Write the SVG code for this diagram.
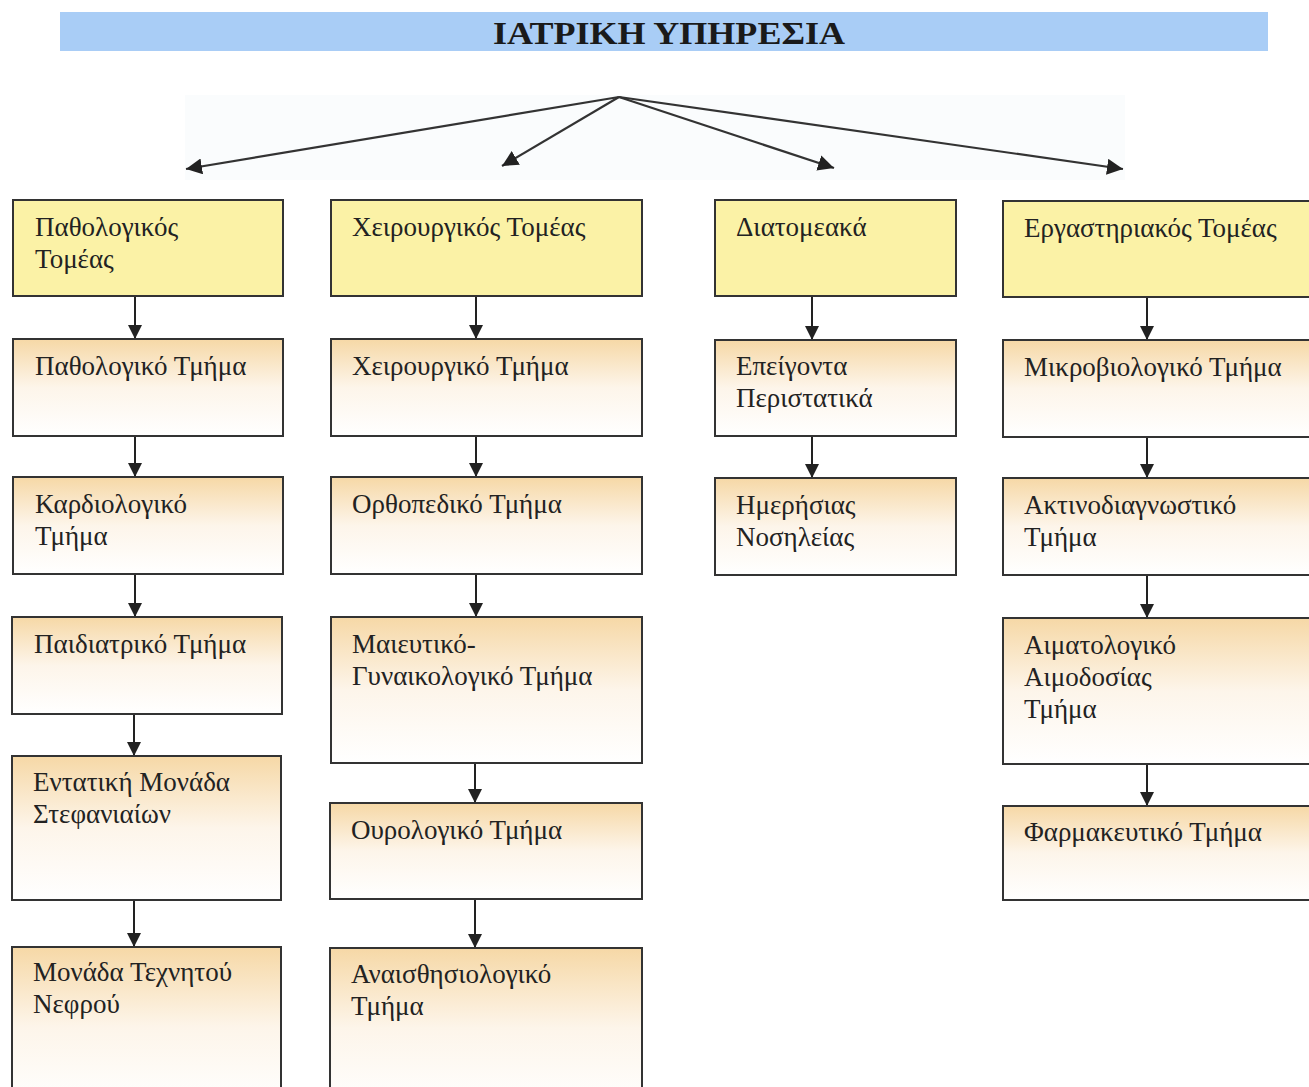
<svg xmlns="http://www.w3.org/2000/svg" width="1309" height="1087" viewBox="0 0 1309 1087">
  <defs>
    <linearGradient id="peach" x1="0" y1="0" x2="0" y2="1">
      <stop offset="0" stop-color="#f6d8a6"/>
      <stop offset="0.5" stop-color="#fdf5ea"/>
      <stop offset="1" stop-color="#ffffff"/>
    </linearGradient>
    <marker id="arr" viewBox="0 0 10 10" refX="10" refY="5" markerWidth="14" markerHeight="14" markerUnits="userSpaceOnUse" orient="auto">
      <path d="M0,0 L10,5 L0,10 z" fill="#222"/>
    </marker>
    <marker id="arrBig" viewBox="0 0 10 10" refX="10" refY="5" markerWidth="16" markerHeight="16" markerUnits="userSpaceOnUse" orient="auto">
      <path d="M0,0 L10,5 L0,10 z" fill="#222"/>
    </marker>
  </defs>
  <style>
    .sector { fill: #fbf2a6; stroke: #333; stroke-width: 2; }
    .dept { fill: url(#peach); stroke: #333; stroke-width: 2; }
    .lbl { font-family: "Liberation Serif", "DejaVu Serif", serif; font-size: 27px; fill: #222; }
    .link { stroke: #222; stroke-width: 2; fill: none; marker-end: url(#arr); }
    .fan { stroke: #333; stroke-width: 2.2; fill: none; marker-end: url(#arrBig); }
  </style>

  <rect width="1309" height="1087" fill="#ffffff"/>

  <!-- title banner -->
  <g id="title">
    <rect x="60" y="12" width="1208" height="39" fill="#a9cdf6"/>
    <text x="669" y="44" text-anchor="middle" font-family="Liberation Serif, serif" font-weight="bold" font-size="32" fill="#1a1a1a" textLength="352" lengthAdjust="spacingAndGlyphs">ΙΑΤΡΙΚΗ ΥΠΗΡΕΣΙΑ</text>
  </g>

  <!-- faint band behind the fan of arrows -->
  <rect x="185" y="95" width="940" height="85" fill="#fafcfd"/>

  <!-- connectors -->
  <g id="connectors">
    <line class="fan" x1="619" y1="97" x2="186" y2="169"/>
    <line class="fan" x1="619" y1="97" x2="502" y2="166"/>
    <line class="fan" x1="619" y1="97" x2="834" y2="168"/>
    <line class="fan" x1="619" y1="97" x2="1123" y2="169"/>

    <line class="link" x1="135" y1="296" x2="135" y2="339"/>
    <line class="link" x1="135" y1="436" x2="135" y2="477"/>
    <line class="link" x1="135" y1="574" x2="135" y2="617"/>
    <line class="link" x1="134" y1="714" x2="134" y2="756"/>
    <line class="link" x1="134" y1="900" x2="134" y2="947"/>

    <line class="link" x1="476" y1="296" x2="476" y2="339"/>
    <line class="link" x1="476" y1="436" x2="476" y2="477"/>
    <line class="link" x1="476" y1="574" x2="476" y2="617"/>
    <line class="link" x1="475" y1="763" x2="475" y2="803"/>
    <line class="link" x1="475" y1="899" x2="475" y2="948"/>

    <line class="link" x1="812" y1="296" x2="812" y2="340"/>
    <line class="link" x1="812" y1="436" x2="812" y2="478"/>

    <line class="link" x1="1147" y1="297" x2="1147" y2="340"/>
    <line class="link" x1="1147" y1="437" x2="1147" y2="478"/>
    <line class="link" x1="1147" y1="575" x2="1147" y2="618"/>
    <line class="link" x1="1147" y1="764" x2="1147" y2="806"/>
  </g>

  <!-- column 1 -->
  <g id="pathologikos-tomeas">
    <rect class="sector" x="13" y="200" width="270" height="96"/>
    <text class="lbl" x="35" y="236">Παθολογικός</text>
    <text class="lbl" x="35" y="268">Τομέας</text>
  </g>
  <g id="pathologiko-tmima">
    <rect class="dept" x="13" y="339" width="270" height="97"/>
    <text class="lbl" x="35" y="375">Παθολογικό Τμήμα</text>
  </g>
  <g id="kardiologiko-tmima">
    <rect class="dept" x="13" y="477" width="270" height="97"/>
    <text class="lbl" x="35" y="513">Καρδιολογικό</text>
    <text class="lbl" x="35" y="545">Τμήμα</text>
  </g>
  <g id="paidiatriko-tmima">
    <rect class="dept" x="12" y="617" width="270" height="97"/>
    <text class="lbl" x="34" y="653">Παιδιατρικό Τμήμα</text>
  </g>
  <g id="entatiki-monada">
    <rect class="dept" x="12" y="756" width="269" height="144"/>
    <text class="lbl" x="33" y="791">Εντατική Μονάδα</text>
    <text class="lbl" x="33" y="823">Στεφανιαίων</text>
  </g>
  <g id="monada-nefrou">
    <rect class="dept" x="12" y="947" width="269" height="160"/>
    <text class="lbl" x="33" y="981">Μονάδα Τεχνητού</text>
    <text class="lbl" x="33" y="1013">Νεφρού</text>
  </g>

  <!-- column 2 -->
  <g id="cheirourgikos-tomeas">
    <rect class="sector" x="331" y="200" width="311" height="96"/>
    <text class="lbl" x="352" y="236">Χειρουργικός Τομέας</text>
  </g>
  <g id="cheirourgiko-tmima">
    <rect class="dept" x="331" y="339" width="311" height="97"/>
    <text class="lbl" x="352" y="375">Χειρουργικό Τμήμα</text>
  </g>
  <g id="orthopediko-tmima">
    <rect class="dept" x="331" y="477" width="311" height="97"/>
    <text class="lbl" x="352" y="513">Ορθοπεδικό Τμήμα</text>
  </g>
  <g id="maieutiko-tmima">
    <rect class="dept" x="331" y="617" width="311" height="146"/>
    <text class="lbl" x="352" y="653">Μαιευτικό-</text>
    <text class="lbl" x="352" y="685">Γυναικολογικό Τμήμα</text>
  </g>
  <g id="ourologiko-tmima">
    <rect class="dept" x="330" y="803" width="312" height="96"/>
    <text class="lbl" x="351" y="839">Ουρολογικό Τμήμα</text>
  </g>
  <g id="anaisthisiologiko-tmima">
    <rect class="dept" x="330" y="948" width="312" height="160"/>
    <text class="lbl" x="351" y="983">Αναισθησιολογικό</text>
    <text class="lbl" x="351" y="1015">Τμήμα</text>
  </g>

  <!-- column 3 -->
  <g id="diatomeaka">
    <rect class="sector" x="715" y="200" width="241" height="96"/>
    <text class="lbl" x="736" y="236">Διατομεακά</text>
  </g>
  <g id="epeigonta">
    <rect class="dept" x="715" y="340" width="241" height="96"/>
    <text class="lbl" x="736" y="375">Επείγοντα</text>
    <text class="lbl" x="736" y="407">Περιστατικά</text>
  </g>
  <g id="imerisias-nosileias">
    <rect class="dept" x="715" y="478" width="241" height="97"/>
    <text class="lbl" x="736" y="514">Ημερήσιας</text>
    <text class="lbl" x="736" y="546">Νοσηλείας</text>
  </g>

  <!-- column 4 -->
  <g id="ergastiriakos-tomeas">
    <rect class="sector" x="1003" y="201" width="320" height="96"/>
    <text class="lbl" x="1024" y="237">Εργαστηριακός Τομέας</text>
  </g>
  <g id="mikroviologiko-tmima">
    <rect class="dept" x="1003" y="340" width="320" height="97"/>
    <text class="lbl" x="1024" y="376">Μικροβιολογικό Τμήμα</text>
  </g>
  <g id="aktinodiagnostiko-tmima">
    <rect class="dept" x="1003" y="478" width="320" height="97"/>
    <text class="lbl" x="1024" y="514">Ακτινοδιαγνωστικό</text>
    <text class="lbl" x="1024" y="546">Τμήμα</text>
  </g>
  <g id="aimatologiko-tmima">
    <rect class="dept" x="1003" y="618" width="320" height="146"/>
    <text class="lbl" x="1024" y="654">Αιματολογικό</text>
    <text class="lbl" x="1024" y="686">Αιμοδοσίας</text>
    <text class="lbl" x="1024" y="718">Τμήμα</text>
  </g>
  <g id="farmakeftiko-tmima">
    <rect class="dept" x="1003" y="806" width="320" height="94"/>
    <text class="lbl" x="1024" y="841">Φαρμακευτικό Τμήμα</text>
  </g>
</svg>
